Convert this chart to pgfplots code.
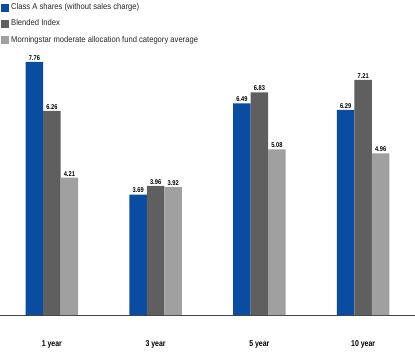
\documentclass[border=0pt]{standalone}
\usepackage{pgfplots}
\pgfplotsset{compat=1.18}
\usepackage{fontspec}
\setmainfont{Liberation Sans}[FakeStretch=0.82]
\newfontfamily\legfont{Liberation Sans}[FakeStretch=0.9]
\definecolor{cblue}{HTML}{0A4DA0}
\definecolor{cdark}{HTML}{5F5F5F}
\definecolor{clight}{HTML}{A0A0A0}
\definecolor{caxis}{HTML}{444444}
\begin{document}
\begin{tikzpicture}
\begin{axis}[
  width=415bp, height=315bp, scale only axis,
  ybar=0pt, bar width=17.5bp,
  xmin=-0.5, xmax=3.5, ymin=0, ymax=9.66,
  axis y line=none,
  axis x line*=bottom,
  x axis line style={-, draw=caxis, line width=0.9pt},
  xtick={0,1,2,3},
  xticklabels={1 year,3 year,5 year,10 year},
  major tick length=0pt,
  ytick=\empty,
  xticklabel style={font=\bfseries\fontsize{8.5}{9}\selectfont, yshift=-22bp},
  /pgf/number format/assume math mode=true,
  nodes near coords,
  nodes near coords style={font=\bfseries\fontsize{7}{8}\selectfont, inner sep=1.5pt, black,
    /pgf/number format/.cd, fixed, fixed zerofill, precision=2},
  legend style={at={(0,1)}, anchor=north west, draw=none, fill=none,
    font=\legfont\fontsize{8.5}{9}\selectfont, text=black!85, row sep=4.5bp, inner xsep=1bp, inner ysep=1.5bp,
    /tikz/every even column/.append style={column sep=0bp}},
  legend cell align=left,
  legend image code/.code={\fill[#1] (1bp,-4bp) rectangle (9bp,4bp);},
]
\addplot[fill=cblue, draw=none] coordinates {(0,7.76) (1,3.69) (2,6.49) (3,6.29)};
\addplot[fill=cdark, draw=none] coordinates {(0,6.26) (1,3.96) (2,6.83) (3,7.21)};
\addplot[fill=clight, draw=none] coordinates {(0,4.21) (1,3.92) (2,5.08) (3,4.96)};
\legend{Class A shares (without sales charge), Blended Index, Morningstar moderate allocation fund category average}
\end{axis}
\pgfresetboundingbox
\path ([yshift=-48bp]current axis.south west) rectangle (current axis.north east);
\end{tikzpicture}
\end{document}
